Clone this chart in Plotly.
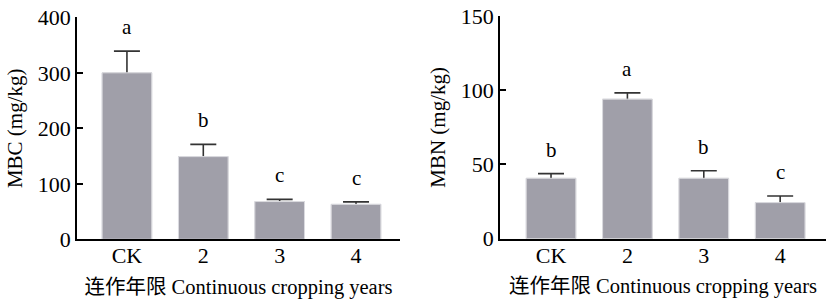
import plotly.graph_objects as go

categories = ["CK", "2", "3", "4"]
mbc = [300, 149, 68, 63]
mbc_err = [39, 22, 4, 4.5]
mbc_letters = ["a", "b", "c", "c"]
mbn = [40.7, 94, 40.7, 24.3]
mbn_err = [3.1, 4.2, 5.1, 4.5]
mbn_letters = ["b", "a", "b", "c"]

xpos = list(range(len(categories)))
FONT = "Liberation Serif, Times New Roman, serif"
BAR_COLOR = "#a09fa9"
EDGE = "#dcdce0"

W, H = 826, 300

fig = go.Figure()

def add_panel(vals, errs, letters, xa, ya, ymax, ytickvals, ytitle, xdomain, xrange, ydomain):
    xr = xa.replace("axis", "")
    yr = ya.replace("axis", "")
    fig.add_trace(go.Bar(
        x=xpos, y=vals, width=0.65,
        marker=dict(color=BAR_COLOR, line=dict(color=EDGE, width=1)),
        error_y=dict(type="data", array=errs, color="#333333",
                     thickness=1.6, width=13),
        xaxis=xr, yaxis=yr, showlegend=False, hoverinfo="skip",
    ))
    fig.add_trace(go.Bar(
        x=xpos, y=vals, width=0.65,
        marker=dict(color=BAR_COLOR, line=dict(color=EDGE, width=1)),
        xaxis=xr, yaxis=yr, showlegend=False, hoverinfo="skip",
    ))
    for xi, v, e, t in zip(xpos, vals, errs, letters):
        fig.add_annotation(
            x=xi, y=v + e, text=t, showarrow=False,
            xref=xr, yref=yr, yanchor="middle", yshift=24,
            font=dict(family=FONT, size=21, color="black"),
        )
    fig.layout[xa] = dict(
        domain=xdomain, range=xrange, tickvals=xpos, ticktext=categories,
        showline=True, linecolor="black", linewidth=1.5, ticks="",
        ticklabelstandoff=-4, ticklabeloverflow="allow",
        showgrid=False, zeroline=False, automargin=False,
        tickfont=dict(family=FONT, size=22, color="black"),
        title=dict(text="连作年限 Continuous cropping years",
                   font=dict(family="Liberation Serif, Noto Sans CJK SC, serif", size=20.5, color="black"),
                   standoff=12),
        anchor=yr,
    )
    fig.layout[ya] = dict(
        domain=ydomain, range=[0, ymax], tickvals=ytickvals,
        showline=True, linecolor="black", linewidth=1.5, ticks="inside",
        ticklen=6, tickwidth=1.5, tickcolor="black", ticklabeloverflow="allow",
        showgrid=False, zeroline=False, automargin=False,
        tickfont=dict(family=FONT, size=22, color="black"),
        title=dict(text=ytitle, font=dict(family=FONT, size=21, color="black"), standoff=9),
        anchor=xr,
    )

add_panel(mbc, mbc_err, mbc_letters, "xaxis", "yaxis", 400, [0, 100, 200, 300, 400],
          "MBC (mg/kg)", [77 / W, 400 / W], [-0.654, 3.576],
          [(H - 239.3) / H, (H - 17.3) / H])
add_panel(mbn, mbn_err, mbn_letters, "xaxis2", "yaxis2", 150, [0, 50, 100, 150],
          "MBN (mg/kg)", [500 / W, 1.0], [-0.668, 3.6],
          [(H - 238.7) / H, (H - 16) / H])

fig.update_layout(
    width=W, height=H,
    margin=dict(l=0, r=0, t=0, b=0),
    paper_bgcolor="white", plot_bgcolor="white",
    barmode="overlay",
)

fig.write_html("out.html",
               config={"displayModeBar": False},
               post_script="document.body.style.margin='0';document.body.style.overflow='hidden';")
